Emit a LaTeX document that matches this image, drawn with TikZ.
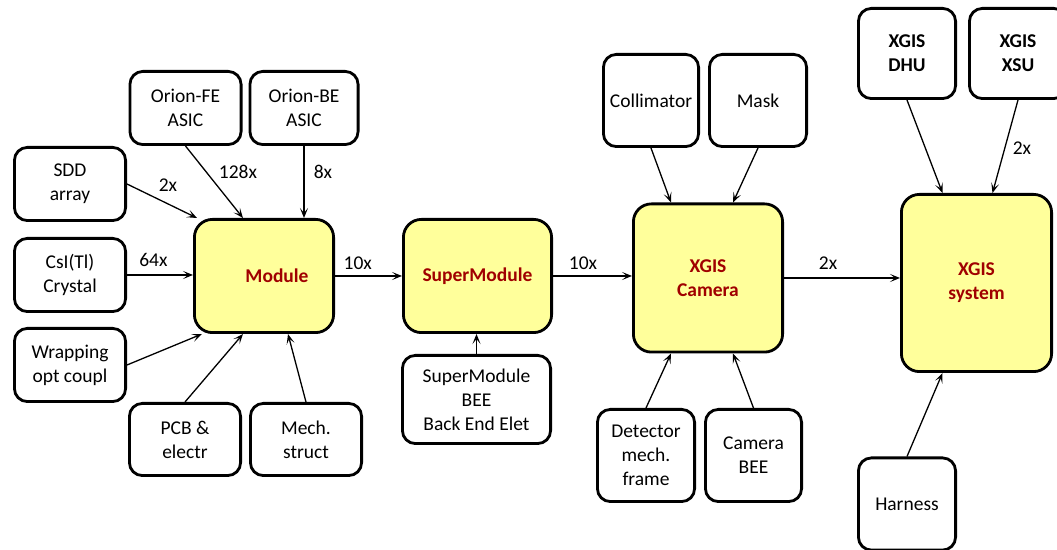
\documentclass[tikz,border=0pt]{standalone}
\usepackage{fontspec}
\setmainfont{Carlito}
\usetikzlibrary{arrows.meta, positioning}
\definecolor{unitfill}{RGB}{255,255,155}
\definecolor{unittext}{RGB}{160,0,0}

\begin{document}
\begin{tikzpicture}[
    x=0.5pt, y=-0.5pt,
    node distance=3pt,
    part/.style={rectangle, draw, line width=1.4pt, rounded corners=6.5pt, minimum width=55.6pt, minimum height=36.6pt, align=center, inner sep=1pt, font=\fontsize{9.75}{12}\selectfont},
    unit/.style={part, fill=unitfill, rounded corners=9pt, text=unittext, font=\fontsize{9.75}{12}\selectfont\bfseries},
    arrow/.style={-{Stealth[length=5pt, width=4pt, inset=2.5pt]}, line width=0.65pt},
    mult/.style={font=\fontsize{9.75}{12}\selectfont, inner sep=0pt},
]
\useasboundingbox (0,0) rectangle (1057,550);

% module and its parts
\node[unit, minimum width=69.6pt, minimum height=56.6pt] (module) at (264,276) {\hspace*{13pt}Module};
\node[part] (fe) at (185.5,108) {Orion-FE\\ASIC};
\node[part, minimum width=54.1pt, right=3pt of fe] (be) {Orion-BE\\ASIC};
\node[part] (sdd) at (70,184) {SDD\\array};
\node[part, below=7.5pt of sdd] (csi) {CsI(Tl)\\Crystal};
\node[part, below=7pt of csi] (wrap) {Wrapping\\opt coupl};
\node[part, minimum height=36.1pt] (pcb) at (185,439.5) {PCB \&\\electr};
\node[part, minimum height=36.1pt, right=3.5pt of pcb] (mech) {Mech.\\struct};

% supermodule
\node[unit, minimum width=74.1pt, minimum height=56.6pt] (smod) at (477.5,276) {SuperModule};
\node[part, minimum width=74.1pt, minimum height=44.1pt] (smbee) at (476.5,399.5) {SuperModule\\BEE\\Back End Elet};

% camera
\node[unit, minimum width=74.6pt, minimum height=74.1pt] (cam) at (708,278) {XGIS\\Camera};
\node[part, minimum width=47.6pt, minimum height=46.1pt] (coll) at (651,100.5) {Collimator};
\node[part, minimum width=48.6pt, minimum height=46.1pt, right=4pt of coll] (mask) {Mask};
\node[part, minimum width=48.6pt, minimum height=46.1pt] (det) at (646,455.5) {Detector\\mech.\\frame};
\node[part, minimum width=48.1pt, minimum height=46.1pt, right=4pt of det] (cbee) {Camera\\BEE};

% system
\node[unit, minimum width=75.1pt, minimum height=88.6pt] (sys) at (976.5,283) {XGIS\\system};
\node[part, minimum width=48.6pt, minimum height=45.1pt, font=\fontsize{9.75}{12}\selectfont\bfseries] (dhu) at (907,53.5) {XGIS\\DHU};
\node[part, minimum width=48.6pt, minimum height=45.1pt, font=\fontsize{9.75}{12}\selectfont\bfseries, right=5.5pt of dhu] (xsu) {XGIS\\XSU};
\node[part, minimum width=48.6pt, minimum height=46.1pt] (harness) at (907,504) {Harness};

% connectors
\draw[arrow] (sdd.east) -- ([xshift=2pt]module.north west);
\draw[arrow] (fe.south) -- ([xshift=-10.5pt]module.north);
\draw[arrow] (be.south) -- (be.south |- module.north);
\draw[arrow] (csi.east) -- node[mult, pos=0.4, above=4pt] {64x} (csi.east -| module.west);
\draw[arrow] (wrap.east) -- ([xshift=4.5pt]module.south west);
\draw[arrow] (pcb.north) -- ([xshift=-10.5pt]module.south);
\draw[arrow] (mech.north) -- ([xshift=12pt]module.south);
\draw[arrow] (module.east) -- node[mult, pos=0.34, above=3pt] {10x} (module.east -| smod.west);
\draw[arrow] (smbee.north) -- (smbee.north |- smod.south);
\draw[arrow] (smod.east) -- node[mult, pos=0.38, above=3pt] {10x} (smod.east -| cam.west);
\draw[arrow] (coll.south) -- ([xshift=-18.5pt]cam.north);
\draw[arrow] (mask.south) -- ([xshift=12.5pt]cam.north);
\draw[arrow] (det.north) -- ([xshift=-18.5pt]cam.south);
\draw[arrow] (cbee.north) -- ([xshift=12.5pt]cam.south);
\draw[arrow] (cam.east) -- node[mult, pos=0.38, above=4pt] {2x} (cam.east -| sys.west);
\draw[arrow] (dhu.south) -- ([xshift=-17pt]sys.north);
\draw[arrow] (xsu.south) -- ([xshift=8pt]sys.north);
\draw[arrow] (harness.north) -- ([xshift=-17pt]sys.south);

% multiplicities on the slanted arrows
\node[mult] (nsdd) at (168,185) {2x};
\node[mult] (nfe) at (238,172) {128x};
\node[mult] (nbe) at (323,172) {8x};
\node[mult] (nxsu) at (1022,148) {2x};

\end{tikzpicture}
\end{document}
